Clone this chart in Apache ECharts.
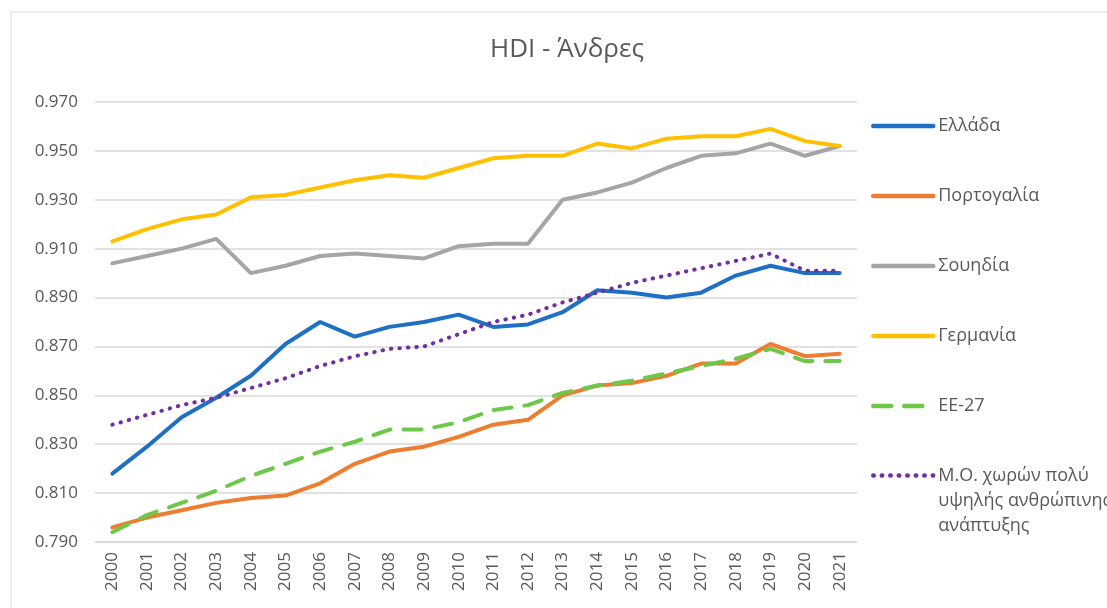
<!DOCTYPE html>
<html>
<head>
<meta charset="utf-8">
<script src="https://cdn.jsdelivr.net/npm/echarts@6/dist/echarts.min.js"></script>
<style>
  html, body { margin: 0; padding: 0; background: #fff; }
  #chart { width: 1107px; height: 608px; }
</style>
</head>
<body>
<div id="chart"></div>
<script>
var years = ['2000','2001','2002','2003','2004','2005','2006','2007','2008','2009','2010',
             '2011','2012','2013','2014','2015','2016','2017','2018','2019','2020','2021'];

var greece   = [0.818,0.829,0.841,0.849,0.858,0.871,0.880,0.874,0.878,0.880,0.883,0.878,0.879,0.884,0.893,0.892,0.890,0.892,0.899,0.903,0.900,0.900];
var portugal = [0.796,0.800,0.803,0.806,0.808,0.809,0.814,0.822,0.827,0.829,0.833,0.838,0.840,0.850,0.854,0.855,0.858,0.863,0.863,0.871,0.866,0.867];
var sweden   = [0.904,0.907,0.910,0.914,0.900,0.903,0.907,0.908,0.907,0.906,0.911,0.912,0.912,0.930,0.933,0.937,0.943,0.948,0.949,0.953,0.948,0.952];
var germany  = [0.913,0.918,0.922,0.924,0.931,0.932,0.935,0.938,0.940,0.939,0.943,0.947,0.948,0.948,0.953,0.951,0.955,0.956,0.956,0.959,0.954,0.952];
var eu27     = [0.794,0.801,0.806,0.811,0.817,0.822,0.827,0.831,0.836,0.836,0.839,0.844,0.846,0.851,0.854,0.856,0.859,0.862,0.865,0.869,0.864,0.864];
var veryHigh = [0.838,0.842,0.846,0.849,0.853,0.857,0.862,0.866,0.869,0.870,0.875,0.880,0.883,0.888,0.892,0.896,0.899,0.902,0.905,0.908,0.901,0.901];

var names = ['Ελλάδα', 'Πορτογαλία', 'Σουηδία', 'Γερμανία', 'ΕΕ-27',
             'Μ.Ο. χωρών πολύ\nυψηλής ανθρώπινης\nανάπτυξης'];

var yMin = 0.79, yMax = 0.97, yStep = 0.02;

var textColor = '#595959';
var font = 'Open Sans';

var chart = echarts.init(document.getElementById('chart'));

function line(name, data, color, width, type) {
  return {
    name: name,
    type: 'line',
    data: data,
    symbol: 'none',
    smooth: false,
    lineStyle: { color: color, width: width, type: type || 'solid', cap: 'round' },
    itemStyle: { color: color }
  };
}

// legend symbol hidden, only the line sample stays
var noSymbol = { color: 'rgba(0,0,0,0)', borderWidth: 0, borderColor: 'rgba(0,0,0,0)' };

var option = {
  animation: false,
  textStyle: { fontFamily: font },
  title: {
    text: 'HDI - Άνδρες',
    left: 562,
    top: 32,
    textAlign: 'center',
    textStyle: { fontFamily: font, fontSize: 26, fontWeight: 'normal', color: textColor }
  },
  graphic: [{
    type: 'rect',
    shape: { x: 11, y: 12, width: 1200, height: 700 },
    style: { fill: 'none', stroke: '#d9d9d9', lineWidth: 1 },
    silent: true
  }],
  legend: [{
    orient: 'vertical',
    left: 871,
    top: 116,
    padding: 0,
    itemWidth: 60,
    itemHeight: 20,
    itemGap: 50,
    itemStyle: noSymbol,
    lineStyle: { width: 4.5 },
    data: names.slice(0, 5),
    textStyle: { fontFamily: font, fontSize: 18, color: textColor, lineHeight: 20 }
  }, {
    orient: 'vertical',
    left: 871,
    top: 429,
    padding: 0,
    itemWidth: 60,
    itemHeight: 20,
    itemStyle: noSymbol,
    lineStyle: { width: 4.5 },
    data: names.slice(5),
    // blank first row pushes the first text line level with the sample line
    formatter: function (n) {
      var parts = n.split('\n');
      return '{gap| }\n' + parts.map(function (p) { return '{t|' + p + '}'; }).join('\n');
    },
    textStyle: {
      fontFamily: font, fontSize: 18, color: textColor,
      rich: {
        gap: { lineHeight: 50, fontSize: 18 },
        t: { lineHeight: 25, fontSize: 18, color: textColor, fontFamily: font }
      }
    }
  }],
  grid: { left: 95, right: 250, top: 102, bottom: 66, containLabel: false },
  xAxis: {
    type: 'category',
    data: years,
    boundaryGap: true,
    axisLine: { show: true, lineStyle: { color: '#d9d9d9', width: 1.5 } },
    axisTick: { show: false },
    axisLabel: { rotate: 90, fontFamily: font, fontSize: 17, color: textColor, margin: 10, interval: 0 }
  },
  yAxis: {
    type: 'value',
    min: yMin,
    max: yMax,
    interval: yStep,
    axisLine: { show: false },
    axisTick: { show: false },
    splitLine: { lineStyle: { color: '#d9d9d9', width: 1.5 } },
    axisLabel: {
      fontFamily: font, fontSize: 17, color: textColor, margin: 17,
      formatter: function (v) { return v.toFixed(3); }
    }
  },
  series: [
    line(names[0], greece, '#1f70c4', 4),
    line(names[1], portugal, '#ed7d31', 4),
    line(names[2], sweden, '#a5a5a5', 4),
    line(names[3], germany, '#ffc000', 4),
    line(names[4], eu27, '#6cc74a', 4, [18, 13]),
    line(names[5], veryHigh, '#7030a0', 4, [0.5, 8])
  ]
};

chart.setOption(option);
</script>
</body>
</html>
